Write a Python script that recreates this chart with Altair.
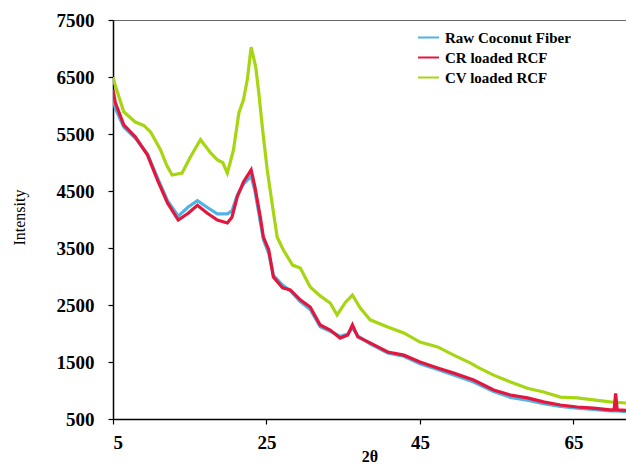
import altair as alt
import pandas as pd

RAW = "Raw Coconut Fiber"
CR = "CR loaded RCF"
CV = "CV loaded RCF"

cv_x = [5.0, 5.3, 6.4, 7.9, 9.0, 9.9, 11.2, 12.0, 12.7, 14.0, 15.1, 16.4, 17.7, 18.6, 19.3,
        19.9, 20.7, 21.4, 22.0, 22.5, 23.0, 23.6, 24.0, 24.5, 25.1, 25.8, 26.4, 27.2, 28.4,
        29.4, 30.7, 32.0, 33.3, 34.2, 35.3, 36.2, 37.2, 38.5, 40.8, 42.9, 45.0, 47.3, 49.4,
        51.6, 52.5, 54.6, 56.8, 59.0, 61.1, 63.3, 65.5, 67.6, 69.8, 71.9]
cv_y = [6500, 6350, 5890, 5710, 5650, 5535, 5220, 4950, 4780, 4815, 5100, 5400, 5170, 5045, 5000,
        4815, 5220, 5870, 6100, 6450, 7025, 6675, 6220, 5570, 4870, 4220, 3690, 3465, 3200,
        3150, 2815, 2660, 2535, 2325, 2550, 2675, 2450, 2240, 2115, 2010, 1850, 1765, 1620,
        1480, 1410, 1270, 1150, 1040, 975, 885, 870, 835, 800, 780]

cr_x = [5.0, 5.3, 6.4, 7.9, 9.5, 10.8, 12.1, 13.5, 14.8, 16.0, 17.3, 18.6, 19.9, 20.5, 21.2,
        22.0, 23.0, 23.5, 24.2, 24.6, 25.3, 25.9, 27.1, 28.1, 29.4, 30.7, 32.0, 33.3, 34.6,
        35.6, 36.2, 36.9, 38.5, 40.8, 42.9, 45.0, 47.3, 49.4, 52.0, 54.6, 56.8, 59.0, 61.1,
        63.3, 65.5, 67.6, 69.8, 70.3, 70.5, 70.7, 71.9]
cr_y = [6280, 6050, 5660, 5450, 5130, 4690, 4290, 3990, 4110, 4250, 4110, 3990, 3940, 4040, 4400,
        4660, 4870, 4570, 4040, 3690, 3465, 2990, 2800, 2765, 2590, 2465, 2150, 2060, 1920,
        1975, 2150, 1940, 1835, 1675, 1620, 1500, 1395, 1305, 1185, 1010, 920, 870, 800,
        745, 710, 690, 660, 660, 950, 660, 650]

raw_x = cr_x
raw_y = [6150, 5950, 5620, 5430, 5150, 4730, 4330, 4060, 4220, 4330, 4210, 4100, 4100, 4150, 4430,
         4620, 4760, 4500, 3950, 3650, 3400, 3020, 2850, 2750, 2560, 2420, 2120, 2040, 1950,
         1990, 2100, 1960, 1820, 1660, 1600, 1470, 1370, 1270, 1150, 980, 880, 830, 770,
         720, 690, 670, 640, 640, 640, 640, 630]

series_names = [RAW, CR, CV]
series_colors = ["#4FB3E6", "#E3173E", "#A6D612"]
y_ticks = [500, 1500, 2500, 3500, 4500, 5500, 6500, 7500]
x_ticks = [5, 25, 45, 65]

rows = []
for name, xs, ys in [(CV, cv_x, cv_y), (RAW, raw_x, raw_y), (CR, cr_x, cr_y)]:
    for i, (a, b) in enumerate(zip(xs, ys)):
        rows.append({"series": name, "theta": a, "intensity": b, "i": i})
df = pd.DataFrame(rows)

FONT = "Liberation Serif"

base = alt.Chart(df).mark_line(strokeWidth=3.2, clip=True).encode(
    x=alt.X("theta:Q",
            scale=alt.Scale(domain=[5, 71.85], nice=False, zero=False),
            axis=alt.Axis(values=x_ticks, format="d", title="2θ", labelPadding=9, titlePadding=-4,
                          titleFontSize=16, titleFontWeight="bold")),
    y=alt.Y("intensity:Q",
            scale=alt.Scale(domain=[500, 7500], nice=False, zero=False),
            axis=alt.Axis(values=y_ticks, format="d", title="Intensity", labelPadding=14,
                          titleFontSize=16, titleFontWeight="normal",
                          titleX=-94, titleY=197, titleBaseline="middle")),
    color=alt.Color("series:N",
                    scale=alt.Scale(domain=series_names, range=series_colors),
                    legend=alt.Legend(title=None, orient="none", legendX=304, legendY=6,
                                      symbolType="stroke", symbolSize=441, symbolStrokeWidth=2,
                                      labelFont=FONT, labelFontSize=15, labelFontWeight="bold",
                                      labelColor="black", labelOffset=5, rowPadding=0,
                                      padding=0, labelLimit=300)),
    order="i:Q",
)

layers = [base.transform_filter(alt.datum.series == s) for s in [CV, RAW, CR]]

chart = alt.layer(*layers).properties(
    width=513, height=399,
    autosize=alt.AutoSizeParams(type="none"),
    padding={"left": 113, "top": 20, "right": 0, "bottom": 47},
).configure_view(
    stroke="#666666", strokeWidth=1
).configure_axis(
    domainColor="black", domainWidth=1.5, tickColor="black", tickSize=5, tickWidth=1.2,
    labelFont=FONT, labelFontWeight="bold", labelFontSize=19, labelColor="black",
    titleFont=FONT, titleColor="black", grid=False,
)

chart.save("out.html", embed_options={"renderer": "svg", "actions": False})
